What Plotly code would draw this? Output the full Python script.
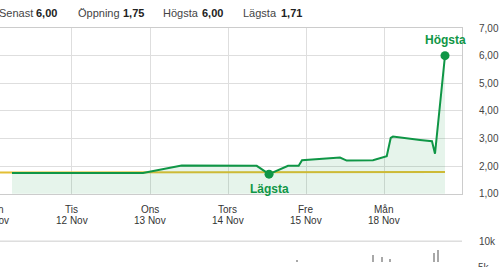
import plotly.graph_objects as go

# ---------------- data ----------------
# x = trading-day index (0 = Mån 11 Nov ... 5 = Mån 18 Nov) + fraction of the day
price_x = [0.231, 1.91, 2.406, 3.368, 3.526, 3.77, 3.906, 3.949, 4.436, 4.522,
           4.859, 5.035, 5.086, 5.115, 5.462, 5.615, 5.654, 5.782]
price_y = [1.75, 1.75, 2.02, 2.01, 1.71, 2.01, 2.01, 2.21, 2.31, 2.20,
           2.21, 2.36, 3.02, 3.07, 2.95, 2.90, 2.45, 6.00]

ref_x = [0.0, 2.0, 3.5, 5.0, 5.782]
ref_y = [1.765, 1.765, 1.775, 1.785, 1.79]

vol_x = [0.6, 1.4, 2.5, 3.885, 4.3, 4.855, 4.971, 5.077, 5.3, 5.641, 5.692]
vol_y = [1500, 900, 1200, 6140, 2000, 7140, 6800, 6340, 3000, 7540, 8140]

low_x, low_y = 3.526, 1.71
high_x, high_y = 5.782, 6.00

tick_days = [0, 1, 2, 3, 4, 5]
tick_names = ["Mån", "Tis", "Ons", "Tors", "Fre", "Mån"]
tick_dates = ["11 Nov", "12 Nov", "13 Nov", "14 Nov", "15 Nov", "18 Nov"]

header_labels = ["Senast", "Öppning", "Högsta", "Lägsta"]
header_values = ["6,00", "1,75", "6,00", "1,71"]

# ---------------- style ----------------
GREEN = "#0f9646"
FILL = "rgba(15,150,70,0.105)"
YELLOW = "#e3bf35"
GRID = "#dedede"
BORDER = "#cccccc"
FONT = "Arial, Liberation Sans, sans-serif"

W, H = 500, 267
ML, MR, MT, MB = 0, 38, 28, 0
plot_h = H - MT - MB
price_dom = [(H - 197.3) / plot_h, 1]
vol_dom = [0, (H - 245.7) / plot_h]
x_range = [0.077, 6.0]
vol_range = [5740, 10000]

fig = go.Figure()

fig.add_trace(go.Scatter(x=ref_x, y=ref_y, mode="lines",
                         line=dict(color=YELLOW, width=2), hoverinfo="skip",
                         xaxis="x", yaxis="y"))
fig.add_trace(go.Scatter(x=price_x, y=price_y, mode="lines",
                         line=dict(color=GREEN, width=2), fill="tozeroy",
                         fillcolor=FILL, xaxis="x", yaxis="y"))
fig.add_trace(go.Scatter(x=[low_x, high_x], y=[low_y, high_y], mode="markers",
                         marker=dict(color=GREEN, size=9), xaxis="x", yaxis="y"))
fig.add_trace(go.Bar(x=vol_x, y=vol_y, width=0.016, marker=dict(color="#a8a8a8", line=dict(width=0)),
                     xaxis="x2", yaxis="y2"))

annotations = []
# Lägsta / Högsta labels
annotations.append(dict(x=low_x, y=low_y, xref="x", yref="y", text="<b>Lägsta</b>",
                        showarrow=False, yshift=-15, font=dict(family=FONT, size=12, color=GREEN)))
annotations.append(dict(x=high_x, y=high_y, xref="x", yref="y", text="<b>Högsta</b>",
                        showarrow=False, yshift=16, font=dict(family=FONT, size=12, color=GREEN)))

def px_to_paper_y(py):
    return (H - MB - py) / plot_h

def px_to_paper_x(px):
    return (px - ML) / (W - ML - MR)

# x tick labels (two rows)
for d, nm, dt in zip(tick_days, tick_names, tick_dates):
    fx = (d - x_range[0]) / (x_range[1] - x_range[0])
    annotations.append(dict(x=fx, y=px_to_paper_y(213.5), xref="paper", yref="paper", text=nm,
                            showarrow=False, xanchor="center", yanchor="middle",
                            font=dict(family=FONT, size=10, color="#333333")))
    annotations.append(dict(x=fx, y=px_to_paper_y(224.5), xref="paper", yref="paper", text=dt,
                            showarrow=False, xanchor="center", yanchor="middle",
                            font=dict(family=FONT, size=10, color="#333333")))

# header
label_px = [-1, 77.7, 163.3, 243]
value_px = [36, 122.7, 201.7, 280.7]
for lab, val, lx, vx in zip(header_labels, header_values, label_px, value_px):
    annotations.append(dict(x=px_to_paper_x(lx), y=px_to_paper_y(12.5), xref="paper", yref="paper",
                            text=lab, showarrow=False, xanchor="left", yanchor="middle",
                            xshift=-2, font=dict(family=FONT, size=11, color="#444444")))
    annotations.append(dict(x=px_to_paper_x(vx), y=px_to_paper_y(12.5), xref="paper", yref="paper",
                            text="<b>" + val + "</b>", showarrow=False, xanchor="left", yanchor="middle",
                            xshift=-2, font=dict(family=FONT, size=11, color="#222222")))

# partially visible 5k volume label
fy5 = vol_dom[0] + (5000 - vol_range[0]) / (vol_range[1] - vol_range[0]) * (vol_dom[1] - vol_dom[0])
annotations.append(dict(x=1, y=fy5, xref="paper", yref="paper", text="5k", showarrow=False,
                        xanchor="left", yanchor="middle", xshift=14, yshift=-2,
                        font=dict(family=FONT, size=10, color="#444444")))

fig.update_layout(
    width=W, height=H,
    margin=dict(l=ML, r=MR, t=MT, b=MB, pad=0),
    paper_bgcolor="white", plot_bgcolor="white",
    showlegend=False,
    separators=", ",
    bargap=0,
    xaxis=dict(domain=[0, 1], range=x_range, anchor="y", tickvals=tick_days[1:],
               showticklabels=False, ticks="", showgrid=True, gridcolor=GRID, gridwidth=1,
               zeroline=False, showline=True, mirror=True, linecolor=BORDER, linewidth=1),
    yaxis=dict(domain=price_dom, range=[1, 7], side="right", dtick=1, tick0=1,
               tickformat=".2f", showgrid=True, gridcolor=GRID, zeroline=False,
               showline=True, linecolor=BORDER, linewidth=1,
               ticks="outside", ticklen=14, tickcolor="rgba(0,0,0,0)",
               tickfont=dict(family=FONT, size=10, color="#444444")),
    xaxis2=dict(domain=[0, 1], range=x_range, anchor="y2", showticklabels=False,
                showgrid=False, zeroline=False, showline=False, ticks=""),
    yaxis2=dict(domain=vol_dom, range=vol_range, side="right", tickvals=[10000],
                ticktext=["10k"], showgrid=False, zeroline=False, showline=False,
                ticks="outside", ticklen=14, tickcolor="rgba(0,0,0,0)",
                tickfont=dict(family=FONT, size=10, color="#444444")),
    shapes=[dict(type="line", xref="paper", yref="paper", x0=0, x1=1,
                 y0=vol_dom[1], y1=vol_dom[1], line=dict(color=BORDER, width=1))],
    annotations=annotations,
)

fig.write_html("out.html")
